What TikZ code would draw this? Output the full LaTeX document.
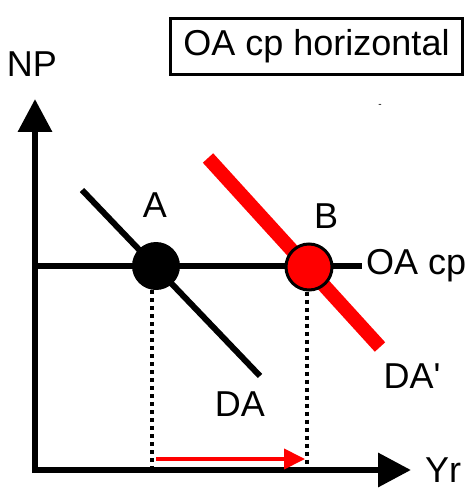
\documentclass[tikz,border=0pt]{standalone}
\usepackage{fontspec}
\setmainfont{Liberation Sans}[Ligatures=TeXOff]
\usetikzlibrary{arrows.meta}
\begin{document}
\begin{tikzpicture}[x=1pt,y=-1pt,
  lbl/.style={font=\fontsize{36}{40}\selectfont, inner sep=0pt},
  axis/.style={line width=6.5pt, -{Triangle[length=33pt,width=33pt]}},
  guide/.style={line width=4pt, dash pattern=on 4pt off 4pt},
  pt/.style={circle, minimum size=48pt, inner sep=0pt}]
\useasboundingbox (0,0) rectangle (470,489);
% axes
\coordinate (O) at (35,470);
\coordinate (ytip) at (35,99);
\coordinate (xtip) at (411,470);
\draw[axis] (35,473) -- (ytip);
\draw[axis] (32,470) -- (xtip);
\node[lbl] (np) at (32,64) {NP};
\node[lbl] (yr) at (443,470) {Yr};
% title
\node[lbl, draw, line width=3pt, minimum width=292pt, minimum height=56pt] (title) at (316.5,46.5) {OA cp horizontal};
\node[font=\fontsize{10}{10}\selectfont, inner sep=0pt] (dash) at (380,106) {-};
% OA cp line
\coordinate (oaL) at (35,266);
\coordinate (oaR) at (362,266);
\draw[line width=5.5pt] (oaL) -- (oaR);
\node[lbl, anchor=west] (oalbl) at (366,266) {OA cp};
% DA
\coordinate (daS) at (82,190);
\coordinate (daE) at (260,376);
\draw[line width=6pt] (daS) -- (daE);
\node[lbl] (dalbl) at (240,404) {DA};
% DA'
\coordinate (dapS) at (208,158);
\coordinate (dapE) at (380,347);
\draw[red, line width=14pt] (dapS) -- (dapE);
\node[lbl] (daplbl) at (412,376) {DA'};
% guides
\coordinate (ga) at (152,470);
\coordinate (gb) at (307,470);
\node[pt, fill=black] (A) at (156,266) {};
\node[pt, fill=red, draw=black, line width=3pt, minimum size=46pt] (B) at (309,267) {};
\draw[guide] (A.center) ++(-4,24) -- (ga);
\draw[guide] (B.south -| gb) -- (gb);
\node[lbl] (alb) at (155,205) {A};
\node[lbl] (blb) at (326,216) {B};
% shift arrow
\coordinate (rs) at (156,459);
\coordinate (re) at (305,459);
\draw[red, line width=4pt, -{Triangle[length=21pt,width=20pt]}] (rs) -- (re);
\end{tikzpicture}
\end{document}
